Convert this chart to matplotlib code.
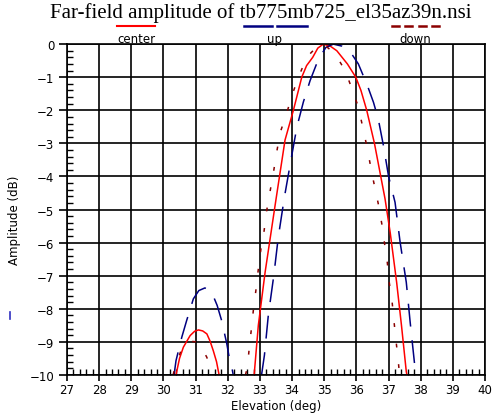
import matplotlib.pyplot as plt
from matplotlib.ticker import MultipleLocator

# center (solid red)
center_main_el = [32.82, 32.95, 33.16, 33.47, 33.78, 34.04, 34.3, 34.45, 34.64, 34.8, 34.97,
                  35.2, 35.39, 35.72, 35.98, 36.14, 36.32, 36.56, 36.89, 37.05, 37.25, 37.4, 37.55, 37.57]
center_main_db = [-10, -8.5, -6.9, -4.88, -2.9, -2.0, -1.0, -0.65, -0.4, -0.12, 0,
                  -0.07, -0.2, -0.6, -1.0, -1.4, -2.0, -3.0, -4.68, -5.7, -7.2, -8.5, -9.9, -10]
center_side_el = [30.39, 30.5, 30.62, 30.83, 30.97, 31.09, 31.22, 31.35, 31.45, 31.55, 31.65, 31.73]
center_side_db = [-10, -9.5, -9.16, -8.81, -8.68, -8.64, -8.67, -8.76, -8.98, -9.27, -9.6, -10]

# up (navy long dash)
up_main_el = [33.05, 33.14, 33.26, 33.43, 33.57, 33.76, 33.97, 34.15, 34.35, 34.56, 34.82, 35.05,
              35.28, 35.55, 35.8, 36.06, 36.34, 36.53, 36.68, 36.84, 37.0, 37.2, 37.36, 37.55,
              37.67, 37.8, 37.85]
up_main_db = [-10, -9.4, -8.2, -7.0, -5.84, -4.63, -3.47, -2.5, -1.75, -1.1, -0.45, -0.1,
              0, -0.06, -0.22, -0.6, -1.25, -1.76, -2.27, -3.07, -4.0, -4.78, -6.0, -7.2,
              -8.4, -9.6, -10]
up_side_el = [30.33, 30.39, 30.57, 30.72, 30.93, 31.1, 31.29, 31.5, 31.67, 31.81, 31.97, 32.04, 32.09, 32.17]
up_side_db = [-10, -9.57, -8.86, -8.36, -7.7, -7.45, -7.37, -7.5, -7.9, -8.36, -9.06, -9.45, -9.6, -10]

# down (dark red short dash)
down_main_el = [32.55, 32.61, 32.67, 32.74, 32.8, 32.88, 32.95, 33.03, 33.13, 33.21, 33.31, 33.42,
                33.52, 33.63, 33.83, 33.99, 34.2, 34.45, 34.85, 35.1, 35.34, 35.65, 35.86, 36.06,
                36.32, 36.5, 36.68, 36.79, 36.87, 36.96, 37.02, 37.11, 37.17, 37.23, 37.3, 37.34]
down_main_db = [-10, -9.77, -9.16, -8.56, -8.0, -7.4, -6.8, -6.2, -5.64, -5.03, -4.48, -3.88,
                -3.27, -2.67, -2.1, -1.56, -1.0, -0.4, 0, -0.1, -0.3, -0.8, -1.35, -1.9,
                -3.07, -4.0, -4.83, -5.44, -6.0, -6.6, -7.2, -7.8, -8.4, -8.96, -9.57, -10]
down_side_el = [30.3, 30.36, 30.57, 30.8, 31.03, 31.2, 31.35, 31.5]
down_side_db = [-10, -9.77, -9.2, -8.98, -9.0, -9.2, -9.47, -10]

x_ticks = list(range(27, 41))
y_ticks = list(range(0, -11, -1))

red = '#ff0000'
navy = '#000080'
dred = '#8b0000'

fig = plt.figure(figsize=(4.96, 4.14), dpi=100)
ax = fig.add_axes([0.135, 0.092, 0.843, 0.799])

ax.plot(center_main_el, center_main_db, color=red, lw=1.1)
ax.plot(center_side_el, center_side_db, color=red, lw=1.1)
ax.plot(up_main_el, up_main_db, color=navy, lw=1.1, dashes=(15, 9))
ax.plot(up_side_el, up_side_db, color=navy, lw=1.1, dashes=(15, 9))
ax.plot(down_main_el, down_main_db, color=dred, lw=1.1, dashes=(2.5, 11))
ax.plot(down_side_el, down_side_db, color=dred, lw=1.1, dashes=(2.5, 11))

ax.set_xlim(27, 40)
ax.set_ylim(-10, 0)
ax.set_xticks(x_ticks)
ax.set_yticks(y_ticks)
ax.xaxis.set_minor_locator(MultipleLocator(0.2))
ax.yaxis.set_minor_locator(MultipleLocator(0.2))
ax.tick_params(which='major', direction='out', length=6, width=1.2, labelsize=8.5, pad=3)
ax.tick_params(axis='x', which='major', length=4, pad=1.5)
ax.tick_params(which='minor', direction='in', length=4, width=1)
ax.grid(True, which='major', color='black', lw=1.2)
for s in ax.spines.values():
    s.set_linewidth(1.2)

ax.set_xlabel('Elevation (deg)', fontsize=8.5, va='center')
ax.xaxis.set_label_coords(0.5, -0.092)
ax.set_ylabel('Amplitude (dB)', fontsize=8.5)
ax.yaxis.set_label_coords(-0.11, 0.47)

fig.text(0.525, 0.968, 'Far-field amplitude of tb775mb725_el35az39n.nsi',
         family='Liberation Serif', fontsize=15, ha='center', va='center')

# legend above the axes
ly = 1.054
ax.plot([0.120, 0.210], [ly, ly], color=red, lw=1.5, transform=ax.transAxes, clip_on=False)
ax.plot([0.423, 0.490], [ly, ly], color=navy, lw=1.8, transform=ax.transAxes, clip_on=False)
ax.plot([0.502, 0.574], [ly, ly], color=navy, lw=1.8, transform=ax.transAxes, clip_on=False)
for x0 in [0.777, 0.809, 0.841, 0.873]:
    ax.plot([x0, x0 + 0.017], [ly, ly], color=dred, lw=1.8, transform=ax.transAxes, clip_on=False)
ax.text(0.165, 1.016, 'center', fontsize=8.5, ha='center', va='center', transform=ax.transAxes)
ax.text(0.497, 1.016, 'up', fontsize=8.5, ha='center', va='center', transform=ax.transAxes)
ax.text(0.833, 1.016, 'down', fontsize=8.5, ha='center', va='center', transform=ax.transAxes)

# stray mark at left edge
fig.add_artist(plt.Line2D([0.021, 0.021], [0.227, 0.243], color='#3030c0', lw=1.2))

fig.savefig('out.png', dpi=100)
